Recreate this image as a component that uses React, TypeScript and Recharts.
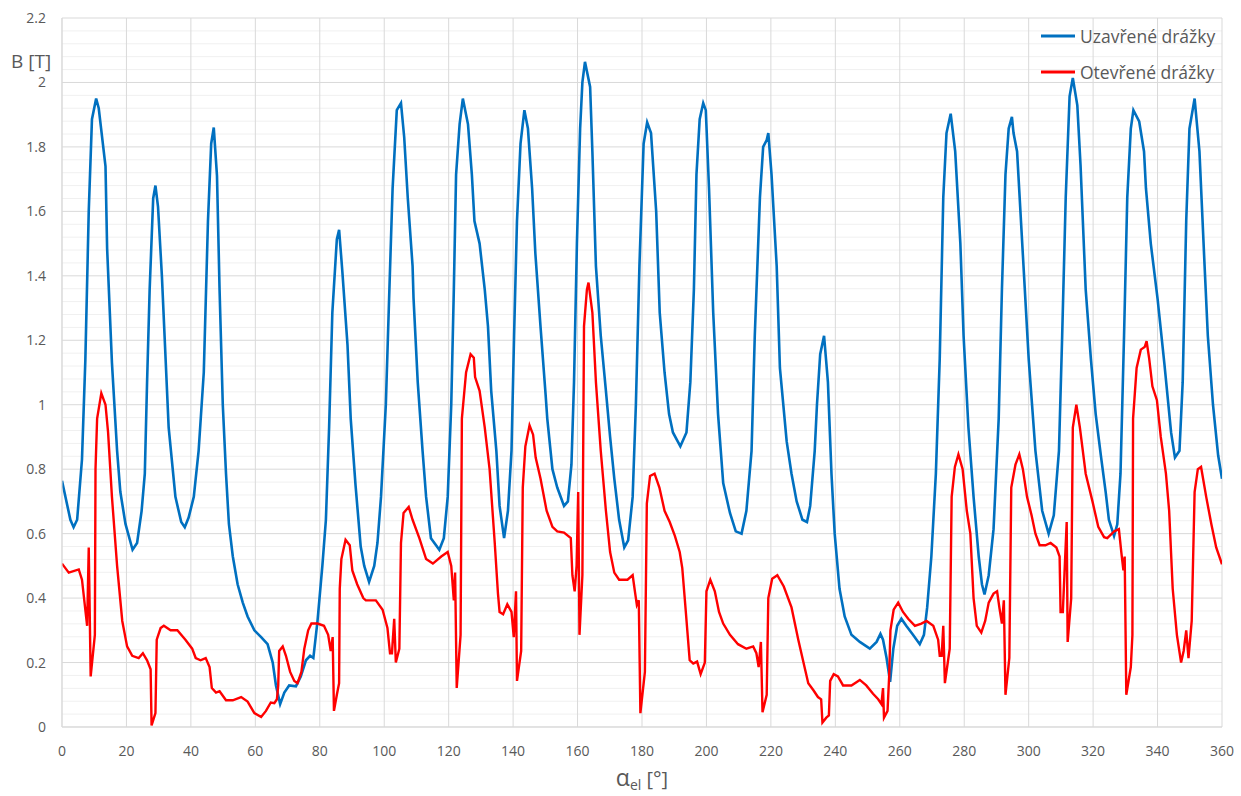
import React from 'react';
import {
  CartesianGrid,
  Label,
  Legend,
  Line,
  LineChart,
  XAxis,
  YAxis,
} from 'recharts';

const xTicks = [0, 20, 40, 60, 80, 100, 120, 140, 160, 180, 200, 220, 240, 260, 280, 300, 320, 340, 360];
const yTicks = [0, 0.2, 0.4, 0.6, 0.8, 1, 1.2, 1.4, 1.6, 1.8, 2, 2.2];
const minorPerMajor = 5;

const seriesNames = ['Uzavřené drážky', 'Otevřené drážky'];
const seriesColors = ['#0070C0', '#FF0000'];

// Uzavřené drážky (closed slots)
const uzavAngle = [
  0, 2.6, 3.6, 4.7, 6.2, 7.25, 8.3, 9.3, 10.6, 11.4, 13.5, 14, 15.5, 17.1, 18.1, 19.7, 21.9, 23.3, 24.7, 25.7,
  26.4, 27.2, 28.3, 29, 29.8, 31, 33.1, 35.2, 37, 38.1, 39.3, 40.9, 42.4, 44, 45.3, 46.3, 47.1, 48.1, 48.9, 49.9,
  50.9, 51.8, 53, 54.5, 56.1, 57.6, 59.7, 61.8, 63.8, 65.4, 66.4, 67.7, 69, 70.5, 72.6, 74.1, 75.7, 77, 78, 79.3,
  80.8, 81.9, 82.9, 83.9, 85.3, 86, 87, 88.6, 89.6, 91.1, 92.7, 93.8, 95.3, 96.9, 97.9, 99, 100.5, 101.6, 102.6, 103.9,
  105.2, 106.2, 107.3, 108.8, 109.1, 110.4, 111.9, 113, 114.5, 117.1, 118.5, 119.7, 120.8, 121.6, 122.3, 123.4, 124.4, 126, 127.2, 128,
  129.6, 131.2, 132.2, 133.2, 134.8, 135.8, 137.2, 138.4, 139.5, 140.3, 141.2, 142.3, 143.5, 144.6, 145.9, 146.9, 148.5, 150.1, 150.6, 152.2,
  153.7, 155.8, 157, 158.1, 158.9, 159.8, 160.8, 161.5, 162.3, 163.9, 164.6, 165.7, 167.2, 168.8, 170.1, 171.4, 172.9, 174.5, 175.7, 177.1,
  178.1, 179.2, 180.5, 181.6, 182.8, 184.4, 185.5, 187, 188.4, 189.6, 191.9, 193.8, 195, 196.1, 196.9, 197.9, 199, 199.8, 200.8, 202.1,
  203.6, 205.2, 207.3, 209.1, 210.9, 212.4, 214, 215, 216.6, 217.6, 218.7, 219.2, 220.2, 221.8, 222.8, 224.9, 226.4, 228, 229.8, 231.2,
  232.2, 233.6, 234.3, 235.3, 236.5, 237.7, 238.8, 239.8, 241.3, 242.9, 245, 247.6, 250.7, 252.8, 254, 254.8, 255.9, 257, 258, 259.2,
  260.5, 262, 264.1, 266.2, 267.5, 268.5, 269.8, 271.2, 272.4, 273.5, 274.5, 275.8, 277.2, 278.8, 279.8, 281.3, 282.9, 284.5, 285.5, 286.3,
  287.6, 289.1, 290.7, 291.7, 292.8, 293.8, 294.8, 295.3, 296.4, 298.4, 300, 302.1, 304.2, 306.2, 307.8, 309.4, 310.4, 311.5, 312.7, 313.7,
  315.1, 316.1, 317.7, 319.3, 320.8, 322.4, 323.9, 324.9, 326.5, 327.5, 328.5, 329.6, 330.6, 331.7, 332.5, 334.3, 335.8, 336.4, 337.9, 340,
  342.1, 344.2, 345.4, 346.8, 347.8, 348.9, 349.9, 351.5, 353, 354.6, 355.6, 357.2, 358.8, 360,
];
const uzavB = [
  0.764, 0.643, 0.62, 0.643, 0.83, 1.14, 1.6, 1.886, 1.95, 1.92, 1.74, 1.486, 1.13, 0.857, 0.73, 0.63, 0.55, 0.571, 0.67, 0.786,
  1.07, 1.357, 1.64, 1.68, 1.614, 1.4, 0.93, 0.714, 0.636, 0.62, 0.65, 0.714, 0.857, 1.1, 1.57, 1.81, 1.86, 1.71, 1.357, 1.0,
  0.786, 0.63, 0.53, 0.443, 0.386, 0.343, 0.3, 0.279, 0.257, 0.2, 0.129, 0.071, 0.107, 0.129, 0.126, 0.157, 0.207, 0.221, 0.214, 0.329,
  0.5, 0.643, 0.93, 1.286, 1.514, 1.543, 1.414, 1.186, 0.957, 0.75, 0.56, 0.5, 0.45, 0.5, 0.571, 0.714, 1.0, 1.357, 1.671, 1.914,
  1.936, 1.83, 1.643, 1.43, 1.33, 1.07, 0.857, 0.714, 0.586, 0.55, 0.586, 0.714, 1.0, 1.357, 1.714, 1.871, 1.95, 1.87, 1.714, 1.57,
  1.5, 1.357, 1.243, 1.043, 0.857, 0.686, 0.586, 0.671, 0.857, 1.214, 1.57, 1.81, 1.914, 1.857, 1.671, 1.47, 1.243, 1.029, 0.957, 0.8,
  0.743, 0.686, 0.7, 0.814, 1.07, 1.5, 1.857, 2.0, 2.064, 1.986, 1.786, 1.43, 1.214, 1.043, 0.9, 0.771, 0.643, 0.557, 0.579, 0.714,
  1.0, 1.43, 1.81, 1.876, 1.843, 1.6, 1.286, 1.1, 0.971, 0.914, 0.871, 0.914, 1.07, 1.357, 1.714, 1.886, 1.936, 1.914, 1.671, 1.286,
  0.971, 0.757, 0.664, 0.607, 0.6, 0.671, 0.857, 1.214, 1.643, 1.8, 1.821, 1.843, 1.714, 1.43, 1.114, 0.886, 0.786, 0.7, 0.643, 0.636,
  0.686, 0.857, 1.0, 1.157, 1.214, 1.07, 0.786, 0.6, 0.429, 0.343, 0.286, 0.264, 0.243, 0.264, 0.289, 0.271, 0.214, 0.14, 0.243, 0.314,
  0.336, 0.314, 0.286, 0.257, 0.286, 0.371, 0.529, 0.786, 1.143, 1.643, 1.843, 1.903, 1.786, 1.5, 1.214, 0.93, 0.714, 0.529, 0.443, 0.411,
  0.471, 0.614, 0.957, 1.357, 1.714, 1.857, 1.893, 1.843, 1.786, 1.43, 1.143, 0.857, 0.671, 0.6, 0.657, 0.857, 1.214, 1.643, 1.957, 2.014,
  1.929, 1.743, 1.357, 1.143, 0.971, 0.843, 0.729, 0.643, 0.593, 0.629, 0.786, 1.214, 1.643, 1.857, 1.914, 1.879, 1.786, 1.671, 1.5, 1.329,
  1.129, 0.914, 0.836, 0.857, 1.07, 1.571, 1.857, 1.95, 1.786, 1.43, 1.214, 1.0, 0.843, 0.77,
];

// Otevřené drážky (open slots)
const otevAngle = [
  0, 2.1, 5.2, 6.2, 7.8, 8.3, 8.9, 10.2, 10.4, 10.9, 12.2, 13.5, 14.3, 15.5, 17.1, 18.7, 20.2, 21.8, 23.8, 25.1,
  26.4, 27.5, 27.8, 29, 29.4, 30.6, 31.6, 33.7, 35.8, 38.3, 40.4, 41.5, 43, 44.6, 45.8, 46.5, 47.8, 48.9, 50.9, 53,
  55.6, 57.6, 59.7, 61.8, 63.3, 64.8, 65.9, 66.7, 67.1, 67.4, 68.5, 69.5, 70.8, 72.1, 73.1, 74.3, 75.2, 76.4, 77.4, 79.3,
  81.3, 82.6, 83.4, 84, 84.4, 85.3, 86, 86.2, 86.7, 88, 89.3, 90.1, 91.6, 93.5, 94.3, 97.4, 99.5, 101, 101.8, 102.4,
  103.1, 103.6, 104.7, 105.2, 106, 107.6, 108.8, 110.9, 113, 115.1, 117.7, 119.7, 120.8, 121.6, 122, 122.5, 123.7, 124.1, 125.4, 126.8,
  127.8, 128.2, 129.6, 131.2, 132.7, 134.3, 135.3, 135.8, 136.9, 138.2, 139.5, 140.2, 140.9, 141.2, 142.5, 143, 143.8, 145.1, 146.2, 147,
  148.5, 150.4, 152.2, 153.7, 155.8, 157.9, 158.4, 159.1, 159.7, 160.2, 160.6, 161.5, 162, 162.9, 163.4, 164.6, 165.7, 167.2, 168.8, 170.1,
  171.4, 172.9, 175.5, 177.1, 177.8, 178.4, 179, 179.5, 180.9, 181.5, 182.5, 183.9, 185.4, 187, 188.6, 190.2, 191.7, 192.5, 193.6, 194.8,
  195.9, 197.1, 198.2, 199.5, 200, 201.2, 202.6, 203.9, 205.2, 207.3, 209.8, 212.4, 214.5, 215.5, 216.2, 216.9, 217.4, 218.7, 219.2, 220.4,
  222, 224, 226.4, 228.5, 230.6, 231.6, 233.2, 234.6, 235.6, 236, 237.2, 238, 238.4, 239.5, 240.8, 242.4, 245, 247.6, 249.6, 251.7,
  253.3, 254.3, 254.8, 255.1, 256.2, 256.7, 257.1, 258.1, 259.5, 261, 262.6, 264.7, 266.7, 268.3, 270.4, 271.9, 272.4, 273, 273.5, 274,
  275.5, 276.1, 277.1, 278.2, 279.5, 280.8, 281.9, 282.9, 283.9, 285.3, 286.5, 287.6, 289.1, 290.2, 290.9, 291.7, 292.3, 292.8, 294, 294.6,
  295.9, 297.1, 298.2, 299.5, 300.9, 302.1, 303.4, 305.2, 306.8, 308.6, 309.6, 309.9, 310.6, 311.8, 312.1, 313.2, 313.7, 314.8, 315.9, 317.7,
  319.8, 321.6, 323.4, 324.4, 326.5, 328, 328.75, 329.4, 329.8, 330.3, 331.7, 332.2, 332.4, 333.5, 334.8, 336, 336.6, 337.4, 338.4, 339.8,
  341, 342.6, 343.6, 344.7, 346, 347.3, 348.1, 348.9, 349.6, 350.6, 351.5, 352.5, 353.5, 355.1, 356.7, 358.2, 360,
];
const otevB = [
  0.507, 0.479, 0.489, 0.457, 0.314, 0.557, 0.157, 0.286, 0.8, 0.957, 1.036, 1.0, 0.914, 0.714, 0.5, 0.329, 0.25, 0.221, 0.214, 0.229,
  0.207, 0.179, 0.005, 0.043, 0.271, 0.307, 0.314, 0.3, 0.3, 0.271, 0.243, 0.214, 0.207, 0.214, 0.186, 0.121, 0.107, 0.111, 0.083, 0.083,
  0.093, 0.079, 0.043, 0.031, 0.05, 0.076, 0.074, 0.086, 0.129, 0.236, 0.25, 0.221, 0.171, 0.143, 0.136, 0.171, 0.243, 0.3, 0.321, 0.321,
  0.314, 0.286, 0.236, 0.279, 0.05, 0.1, 0.136, 0.429, 0.521, 0.581, 0.564, 0.486, 0.443, 0.4, 0.393, 0.393, 0.364, 0.307, 0.229, 0.229,
  0.336, 0.2, 0.243, 0.571, 0.664, 0.683, 0.643, 0.586, 0.521, 0.507, 0.529, 0.543, 0.5, 0.393, 0.479, 0.121, 0.286, 0.957, 1.1, 1.157,
  1.146, 1.086, 1.043, 0.929, 0.8, 0.571, 0.414, 0.357, 0.35, 0.381, 0.357, 0.279, 0.421, 0.143, 0.236, 0.743, 0.871, 0.936, 0.907, 0.836,
  0.771, 0.671, 0.621, 0.607, 0.603, 0.586, 0.471, 0.421, 0.5, 0.729, 0.286, 0.471, 1.243, 1.357, 1.379, 1.286, 1.07, 0.857, 0.671, 0.543,
  0.479, 0.457, 0.457, 0.471, 0.421, 0.379, 0.393, 0.043, 0.171, 0.693, 0.779, 0.786, 0.743, 0.671, 0.636, 0.593, 0.543, 0.493, 0.357, 0.207,
  0.197, 0.203, 0.164, 0.2, 0.421, 0.457, 0.421, 0.357, 0.321, 0.286, 0.257, 0.243, 0.25, 0.229, 0.186, 0.264, 0.046, 0.1, 0.4, 0.46,
  0.471, 0.436, 0.371, 0.271, 0.179, 0.136, 0.114, 0.093, 0.086, 0.014, 0.029, 0.036, 0.143, 0.164, 0.157, 0.129, 0.129, 0.146, 0.129, 0.103,
  0.086, 0.071, 0.121, 0.029, 0.05, 0.157, 0.3, 0.364, 0.386, 0.357, 0.336, 0.314, 0.321, 0.329, 0.314, 0.271, 0.221, 0.221, 0.314, 0.136,
  0.243, 0.714, 0.807, 0.846, 0.8, 0.671, 0.6, 0.4, 0.314, 0.293, 0.329, 0.386, 0.414, 0.421, 0.371, 0.321, 0.393, 0.1, 0.214, 0.743,
  0.814, 0.846, 0.8, 0.714, 0.657, 0.6, 0.564, 0.564, 0.571, 0.557, 0.529, 0.357, 0.357, 0.636, 0.264, 0.4, 0.929, 1.0, 0.929, 0.786,
  0.7, 0.621, 0.589, 0.586, 0.607, 0.614, 0.543, 0.486, 0.529, 0.1, 0.186, 0.286, 0.957, 1.114, 1.171, 1.179, 1.197, 1.143, 1.057, 1.014,
  0.9, 0.786, 0.671, 0.429, 0.286, 0.2, 0.236, 0.3, 0.214, 0.329, 0.729, 0.8, 0.807, 0.714, 0.629, 0.557, 0.505,
];

const uzavData = uzavAngle.map((a, i) => ({ angle: a, b: uzavB[i] }));
const otevData = otevAngle.map((a, i) => ({ angle: a, b: otevB[i] }));

// minor horizontal grid values between the major ticks
const minorValues: number[] = [];
for (let i = 0; i < yTicks.length - 1; i++) {
  const step = (yTicks[i + 1] - yTicks[i]) / minorPerMajor;
  for (let k = 1; k < minorPerMajor; k++) minorValues.push(yTicks[i] + k * step);
}

const textColor = '#595959';

const minorGridCoords = ({ yAxis, offset }: any) =>
  minorValues.map((v) =>
    yAxis && typeof yAxis.scale === 'function'
      ? yAxis.scale(v)
      : offset.top + offset.height * (1 - v / yTicks[yTicks.length - 1]),
  );

const renderLegend = () => (
  <div style={{ display: 'flex', flexDirection: 'column' }}>
    {seriesNames.map((name, i) => (
      <div key={name} style={{ display: 'flex', alignItems: 'center', height: 36 }}>
        <svg width={34} height={4}>
          <line x1={0} y1={2} x2={34} y2={2} stroke={seriesColors[i]} strokeWidth={3} />
        </svg>
        <span style={{ marginLeft: 5, fontSize: 17.5, color: textColor }}>{name}</span>
      </div>
    ))}
  </div>
);

const XTitle = (props: any) => {
  const vb = props.viewBox || { x: 62, width: 1160 };
  return (
    <text x={vb.x + vb.width / 2} y={786} textAnchor="middle" fill={textColor}>
      <tspan fontSize={23}>α</tspan>
      <tspan fontSize={14} dy={4}>el</tspan>
      <tspan fontSize={20} dy={-4}> [°]</tspan>
    </text>
  );
};

const YTitle = () => (
  <text x={11} y={68} fontSize={19} fill={textColor}>
    B [T]
  </text>
);

export default function App() {
  return (
    <div
      style={{
        position: 'absolute',
        left: 0,
        top: 0,
        width: 1241,
        height: 796,
        background: '#fff',
        fontFamily: '"Open Sans", sans-serif',
      }}
    >
      <LineChart width={1241} height={796} margin={{ top: 18, right: 19, bottom: 0, left: 0 }}>
        <CartesianGrid
          vertical={false}
          stroke="#f0f0f0"
          horizontalCoordinatesGenerator={minorGridCoords}
        />
        <CartesianGrid stroke="#d9d9d9" />
        <XAxis
          type="number"
          dataKey="angle"
          domain={[0, 360]}
          ticks={xTicks}
          interval={0}
          height={69}
          tickLine={false}
          tickMargin={13}
          axisLine={{ stroke: '#d9d9d9' }}
          tick={{ fill: textColor, fontSize: 14 }}
          allowDataOverflow
        >
          <Label content={<XTitle />} />
        </XAxis>
        <YAxis
          type="number"
          domain={[0, 2.2]}
          ticks={yTicks}
          interval={0}
          width={62}
          tickLine={false}
          tickMargin={10}
          axisLine={{ stroke: '#d9d9d9' }}
          tick={{ fill: textColor, fontSize: 14 }}
          allowDataOverflow
        >
          <Label content={<YTitle />} />
        </YAxis>
        <Legend
          layout="vertical"
          align="center"
          verticalAlign="middle"
          content={renderLegend}
          wrapperStyle={{ left: 1041, top: 18, width: 195, right: 'auto', bottom: 'auto' }}
        />
        <Line
          data={uzavData}
          dataKey="b"
          name={seriesNames[0]}
          type="linear"
          stroke={seriesColors[0]}
          strokeWidth={2.6}
          dot={false}
          isAnimationActive={false}
        />
        <Line
          data={otevData}
          dataKey="b"
          name={seriesNames[1]}
          type="linear"
          stroke={seriesColors[1]}
          strokeWidth={2.4}
          dot={false}
          isAnimationActive={false}
        />
      </LineChart>
    </div>
  );
}
